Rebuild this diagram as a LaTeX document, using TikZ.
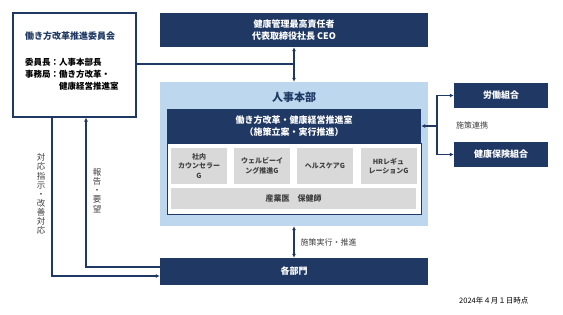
\documentclass[tikz,border=0pt]{standalone}
\usepackage{fontspec}
\setmainfont{Noto Sans CJK JP}
\usetikzlibrary{arrows.meta,positioning,calc}
\definecolor{navy}{HTML}{1F3864}
\definecolor{paleblue}{HTML}{BDD7EE}
\definecolor{boxgray}{HTML}{D9D9D9}
\definecolor{txtgray}{HTML}{404040}

\begin{document}
\begin{tikzpicture}[
    x=1pt, y=-1pt,
    navybox/.style={rectangle, fill=navy, text=white, inner sep=0pt, align=center, font=\fontsize{9}{12}\selectfont\bfseries},
    graybox/.style={rectangle, fill=boxgray, text=txtgray, inner sep=0pt, align=center, font=\fontsize{7}{9.5}\selectfont\bfseries},
    link/.style={draw=navy, line width=1.1pt},
    arr/.style={link, -{Latex[length=4pt,width=4pt]}},
    both/.style={link, {Latex[length=4pt,width=4pt]}-{Latex[length=4pt,width=4pt]}},
    note/.style={text=txtgray, font=\fontsize{8}{9}\selectfont, inner sep=0pt}
]
    \useasboundingbox (0,0) rectangle (563,314);

    % committee
    \node[draw=navy, line width=1.1pt, fill=white, minimum width=123pt, minimum height=104pt, inner sep=0pt] (commit) at (74.5,65) {};
    \node[anchor=west, text=navy, inner sep=0pt, font=\fontsize{9}{12}\selectfont\bfseries] (committitle) at (25,36) {働き方改革推進委員会};
    \node[anchor=north west, inner sep=0pt, font=\fontsize{8.5}{12}\selectfont\bfseries] (commitmembers) at (25,57) {%
        \begin{tabular}{@{}l@{}l@{}}
        委員長：& 人事本部長\\
        事務局：& 働き方改革・\\
         & 健康経営推進室
        \end{tabular}};

    % top and bottom bars
    \node[navybox, minimum width=268pt, minimum height=34pt] (ceo) at (294,30) {健康管理最高責任者\\代表取締役社長 CEO};
    \node[navybox, minimum width=268pt, minimum height=27pt] (bu) at (294,271.5) {各部門};

    % HR headquarters
    \node[rectangle, fill=paleblue, minimum width=268pt, minimum height=144pt, inner sep=0pt] (hr) at (294,154) {};
    \node[text=navy, inner sep=0pt, font=\fontsize{11}{12}\selectfont\bfseries] (hrtitle) at (294,97) {人事本部};
    \node[draw=navy, line width=1pt, fill=white, minimum width=254pt, minimum height=71pt, inner sep=0pt] (hrunits) at (294,178.5) {};
    \node[navybox, minimum width=254pt, minimum height=34pt] (hq) at (294,126) {働き方改革・健康経営推進室\\（施策立案・実行推進）};
    \node[graybox, minimum width=56pt, minimum height=36pt] (counsel) at (199,166) {社内\\カウンセラー\\G};
    \node[graybox, minimum width=56pt, minimum height=36pt] (wellbeing) at (262,166) {ウェルビーイ\\ング推進G};
    \node[graybox, minimum width=56pt, minimum height=36pt] (health) at (325,166) {ヘルスケアG};
    \node[graybox, minimum width=56pt, minimum height=36pt] (hrreg) at (388.5,166) {HRレギュ\\レーションG};
    \node[graybox, minimum width=245pt, minimum height=21pt, font=\fontsize{8}{9}\selectfont\bfseries] (doctors) at (293.5,198) {産業医\quad 保健師};

    % partners
    \node[navybox, minimum width=94pt, minimum height=25pt] (union) at (501,95.5) {労働組合};
    \node[navybox, minimum width=94pt, minimum height=25pt] (kenpo) at (501,154.5) {健康保険組合};
    \coordinate (branch) at (437,126);

    % connectors
    \draw[link] (commit.east |- 0,64) -- (293,64);
    \draw[both] (ceo.south) -- (hr.north);
    \draw[both] (hr.south) -- node[note, right=6pt] {施策実行・推進} (bu.north);
    \draw[arr] (branch) -- (hq.east);
    \draw[arr] (branch) |- (union.west);
    \draw[arr] (branch) |- (kenpo.west);
    \node[note, anchor=west] (jointlabel) at (456,125) {施策連携};
    \draw[arr] ([xshift=-22.5pt]commit.south) |- ([yshift=-4.5pt]bu.west);
    \draw[arr] ([yshift=4.5pt]bu.west) -| ([xshift=11.5pt]commit.south);
    \node[note, align=center, font=\fontsize{8.5}{9.1}\selectfont] (orderlabel) at (41,194) {対\\応\\指\\示\\・\\改\\善\\対\\応};
    \node[note, align=center, font=\fontsize{8.5}{9.1}\selectfont] (reportlabel) at (97,190.5) {報\\告\\・\\要\\望};

    \node[note, anchor=west, text=black, font=\fontsize{7.5}{9}\selectfont] (asof) at (459,301) {2024年４月１日時点};
\end{tikzpicture}
\end{document}
